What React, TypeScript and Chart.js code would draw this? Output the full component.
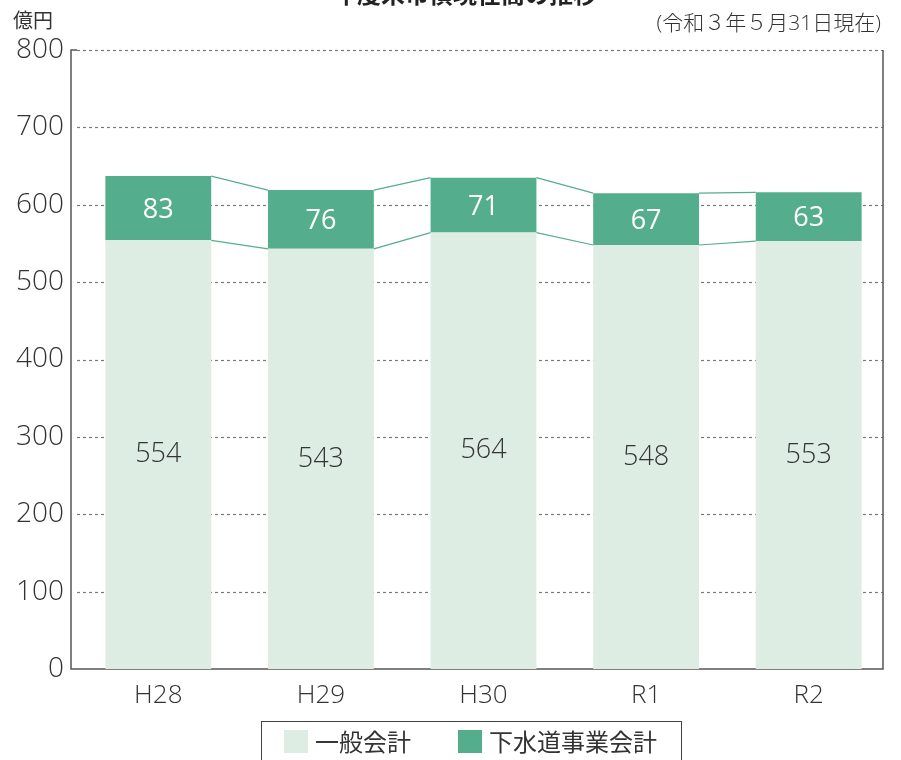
import React, { useEffect, useRef } from "react";
import { Chart, registerables } from "chart.js";

Chart.register(...registerables);

const categories = ["H28", "H29", "H30", "R1", "R2"];
const generalAccount = [554, 543, 564, 548, 553];
const sewerAccount = [83, 76, 71, 67, 63];
const yTicks = [0, 100, 200, 300, 400, 500, 600, 700, 800];
const seriesNames = ["一般会計", "下水道事業会計"];
const titleText = "年度末市債現在高の推移";
const unitText = "億円";
const dateText = "(令和３年５月31日現在)";

const LIGHT = "#deede4";
const GREEN = "#54ae8e";
const FONT = "'Noto Sans CJK JP', 'Noto Sans', sans-serif";
const NUMFONT = "'Open Sans', 'Noto Sans CJK JP', sans-serif";

export default function App() {
  const ref = useRef<HTMLCanvasElement | null>(null);

  useEffect(() => {
    if (!ref.current) return;
    const framePlugin = {
      id: "frame",
      beforeDatasetsDraw(chart: any) {
        const { ctx, chartArea, scales } = chart;
        const y = scales.y;
        const left = chartArea.left - 6;
        const right = chartArea.right - 7;
        ctx.save();
        ctx.strokeStyle = "#7a7a7a";
        ctx.lineWidth = 1.2;
        ctx.setLineDash([3, 3]);
        yTicks.forEach((v) => {
          if (v === 0) return;
          const py = Math.round(y.getPixelForValue(v)) + 0.5;
          ctx.beginPath();
          ctx.moveTo(left + 6, py);
          ctx.lineTo(right, py);
          ctx.stroke();
        });
        ctx.setLineDash([]);
        ctx.strokeStyle = "#555";
        ctx.lineWidth = 1.5;
        const top = y.getPixelForValue(800);
        const bottom = y.getPixelForValue(0);
        ctx.beginPath();
        ctx.moveTo(left + 6, top);
        ctx.lineTo(left, top);
        ctx.lineTo(left, bottom);
        ctx.lineTo(right, bottom);
        ctx.lineTo(right, top);
        ctx.stroke();
        ctx.restore();
      },
      afterDatasetsDraw(chart: any) {
        const { ctx } = chart;
        ctx.save();
        ctx.strokeStyle = GREEN;
        ctx.lineWidth = 1.2;
        chart.data.datasets.forEach((_: any, di: number) => {
          const meta = chart.getDatasetMeta(di);
          for (let i = 0; i < meta.data.length - 1; i++) {
            const a = meta.data[i];
            const b = meta.data[i + 1];
            ctx.beginPath();
            ctx.moveTo(a.x + a.width / 2, a.y);
            ctx.lineTo(b.x - b.width / 2, b.y);
            ctx.stroke();
          }
        });
        ctx.textAlign = "center";
        ctx.textBaseline = "middle";
        chart.data.datasets.forEach((ds: any, di: number) => {
          const meta = chart.getDatasetMeta(di);
          meta.data.forEach((el: any, i: number) => {
            ctx.font = di === 0 ? `300 27px ${NUMFONT}` : `400 27px ${NUMFONT}`;
            ctx.fillStyle = di === 0 ? "#333" : "#fff";
            ctx.fillText(String(ds.data[i]), el.x, (el.y + el.base) / 2 + (di === 0 ? 0 : 2));
          });
        });
        ctx.restore();
      },
    };

    const chart = new Chart(ref.current, {
      type: "bar",
      data: {
        labels: categories,
        datasets: [
          {
            label: seriesNames[0],
            data: generalAccount,
            backgroundColor: LIGHT,
            categoryPercentage: 1,
            barPercentage: 0.651,
          },
          {
            label: seriesNames[1],
            data: sewerAccount,
            backgroundColor: GREEN,
            categoryPercentage: 1,
            barPercentage: 0.651,
          },
        ],
      },
      options: {
        animation: false,
        responsive: false,
        maintainAspectRatio: false,
        layout: { padding: { left: 0, right: 11, top: 50, bottom: 0 } },
        plugins: {
          legend: { display: false },
          tooltip: { enabled: false },
          title: { display: false },
        },
        scales: {
          x: {
            stacked: true,
            grid: { display: false },
            border: { display: false },
            ticks: {
              color: "#333",
              font: { family: NUMFONT, size: 26, weight: "300" as any },
              padding: 3,
            },
            afterFit: (s: any) => {
              s.height = 91;
            },
          },
          y: {
            stacked: true,
            min: 0,
            max: 800,
            grid: { display: false },
            border: { display: false },
            ticks: {
              stepSize: 100,
              color: "#333",
              font: { family: NUMFONT, size: 28, weight: "300" as any },
              padding: 5,
            },
            afterFit: (s: any) => {
              s.width = 77;
            },
          },
        },
      },
      plugins: [framePlugin],
    });
    return () => chart.destroy();
  }, []);

  return (
    <div
      style={{
        position: "fixed",
        left: 0,
        top: 0,
        width: 901,
        height: 760,
        overflow: "hidden",
        background: "#fff",
        fontFamily: FONT,
      }}
    >
      <canvas ref={ref} width={901} height={760} style={{ position: "absolute", left: 0, top: 0 }} />
      <div
        style={{
          position: "absolute",
          left: 0,
          width: 930,
          top: -22,
          textAlign: "center",
          fontSize: 24,
          fontWeight: 700,
          lineHeight: "30px",
          color: "#222",
        }}
      >
        {titleText}
      </div>
      <div style={{ position: "absolute", left: 13, top: 6, fontSize: 20, lineHeight: "28px", color: "#333" }}>
        {unitText}
      </div>
      <div
        style={{
          position: "absolute",
          right: 20,
          top: 8,
          fontSize: 21,
          lineHeight: "28px",
          color: "#333",
          fontFamily: NUMFONT,
          fontWeight: 300,
        }}
      >
        {dateText}
      </div>
      <div
        style={{
          position: "absolute",
          left: 261,
          top: 721,
          width: 421,
          height: 60,
          border: "1.5px solid #444",
          boxSizing: "border-box",
        }}
      >
        <div style={{ position: "absolute", left: 22, top: 8, width: 24, height: 23, background: LIGHT }} />
        <div style={{ position: "absolute", left: 53, top: 3, fontSize: 24, lineHeight: "32px", color: "#333" }}>
          {seriesNames[0]}
        </div>
        <div style={{ position: "absolute", left: 196, top: 8, width: 24, height: 23, background: GREEN }} />
        <div style={{ position: "absolute", left: 227, top: 3, fontSize: 24, lineHeight: "32px", color: "#333" }}>
          {seriesNames[1]}
        </div>
      </div>
    </div>
  );
}
